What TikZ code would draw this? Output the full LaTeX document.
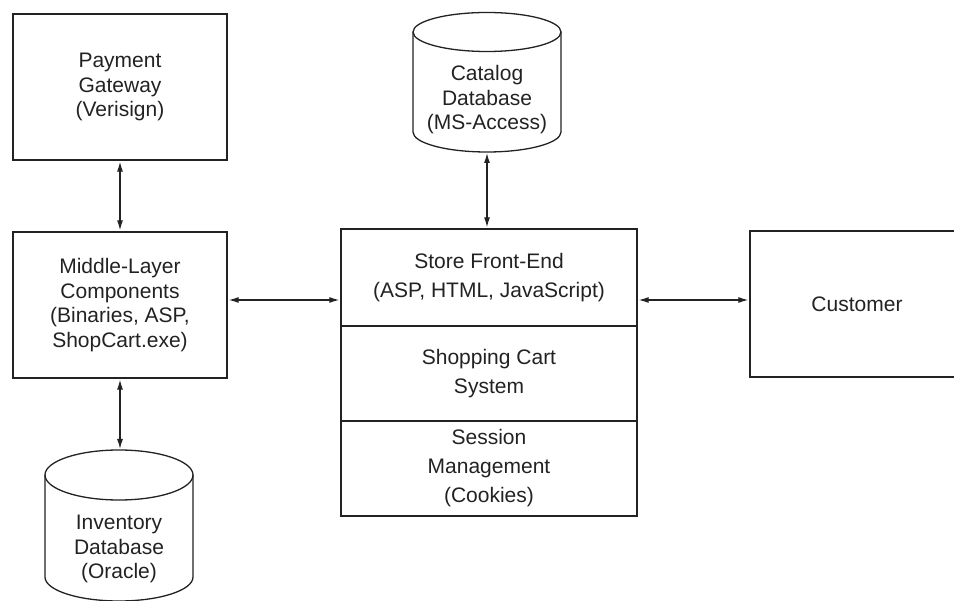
\documentclass[tikz,border=0pt]{standalone}
\usepackage{fontspec}
\setmainfont{Liberation Sans}
\usetikzlibrary{arrows.meta}
\definecolor{ink}{HTML}{222222}
\begin{document}
\begin{tikzpicture}[x=1pt,y=-1pt,
  every node/.style={text=ink, align=center, inner sep=0pt},
  lbl/.style={font=\fontsize{21}{24.5}\selectfont},
  secttext/.style={font=\fontsize{21}{29}\selectfont},
  box/.style={draw=ink, line width=1.4pt, rectangle, lbl,
    minimum width=214pt, minimum height=146pt},
  section/.style={draw=ink, line width=1.4pt, rectangle, secttext,
    minimum width=296pt},
  drum/.style={draw=ink, line width=1.3pt},
  link/.style={draw=ink, line width=1.2pt,
    {Latex[length=10pt,width=6pt]}-{Latex[length=10pt,width=6pt]},
    shorten <=1pt, shorten >=1pt}]
\useasboundingbox (0,0) rectangle (954,601);

% plain boxes
\node[box] (pay) at (120,87) {Payment\\Gateway\\(Verisign)};
\node[box] (mid) at (120,305) {Middle-Layer\\Components\\(Binaries, ASP,\\ShopCart.exe)};
\node[box] (cust) at (857,304) {Customer};

% store front stack
\node[section, minimum height=97pt] (front) at (489,277.5) {Store Front-End\\(ASP, HTML, JavaScript)};
\node[section, minimum height=95pt] (cart) at (489,373.5) {Shopping Cart\\System};
\node[section, minimum height=95pt] (sess) at (489,468.5) {Session\\Management\\(Cookies)};

% catalog database drum
\draw[drum] (487,32) ellipse [x radius=74, y radius=19.5];
\draw[drum] (413,32) -- (413,132) arc [start angle=180, end angle=0, x radius=74, y radius=20] -- (561,32);
\node[lbl] (cat) at (487,100) {Catalog\\Database\\(MS-Access)};
\coordinate (catbase) at (487,152);

% inventory database drum
\draw[drum] (119,475) ellipse [x radius=74, y radius=25];
\draw[drum] (45,475) -- (45,577) arc [start angle=180, end angle=0, x radius=74, y radius=24] -- (193,475);
\node[lbl] (inv) at (119,549) {Inventory\\Database\\(Oracle)};
\coordinate (invtop) at (119,450);

% connectors
\draw[link] (pay.south) -- (mid.north);
\draw[link] (mid.south) -- (mid.south |- invtop);
\draw[link] ([yshift=5pt]mid.east) -- ([yshift=5pt]mid.east -| front.west);
\draw[link] (catbase) -- (catbase |- front.north);
\draw[link] ([yshift=4pt]cust.west) -- ([yshift=4pt]cust.west -| front.east);
\end{tikzpicture}
\end{document}
